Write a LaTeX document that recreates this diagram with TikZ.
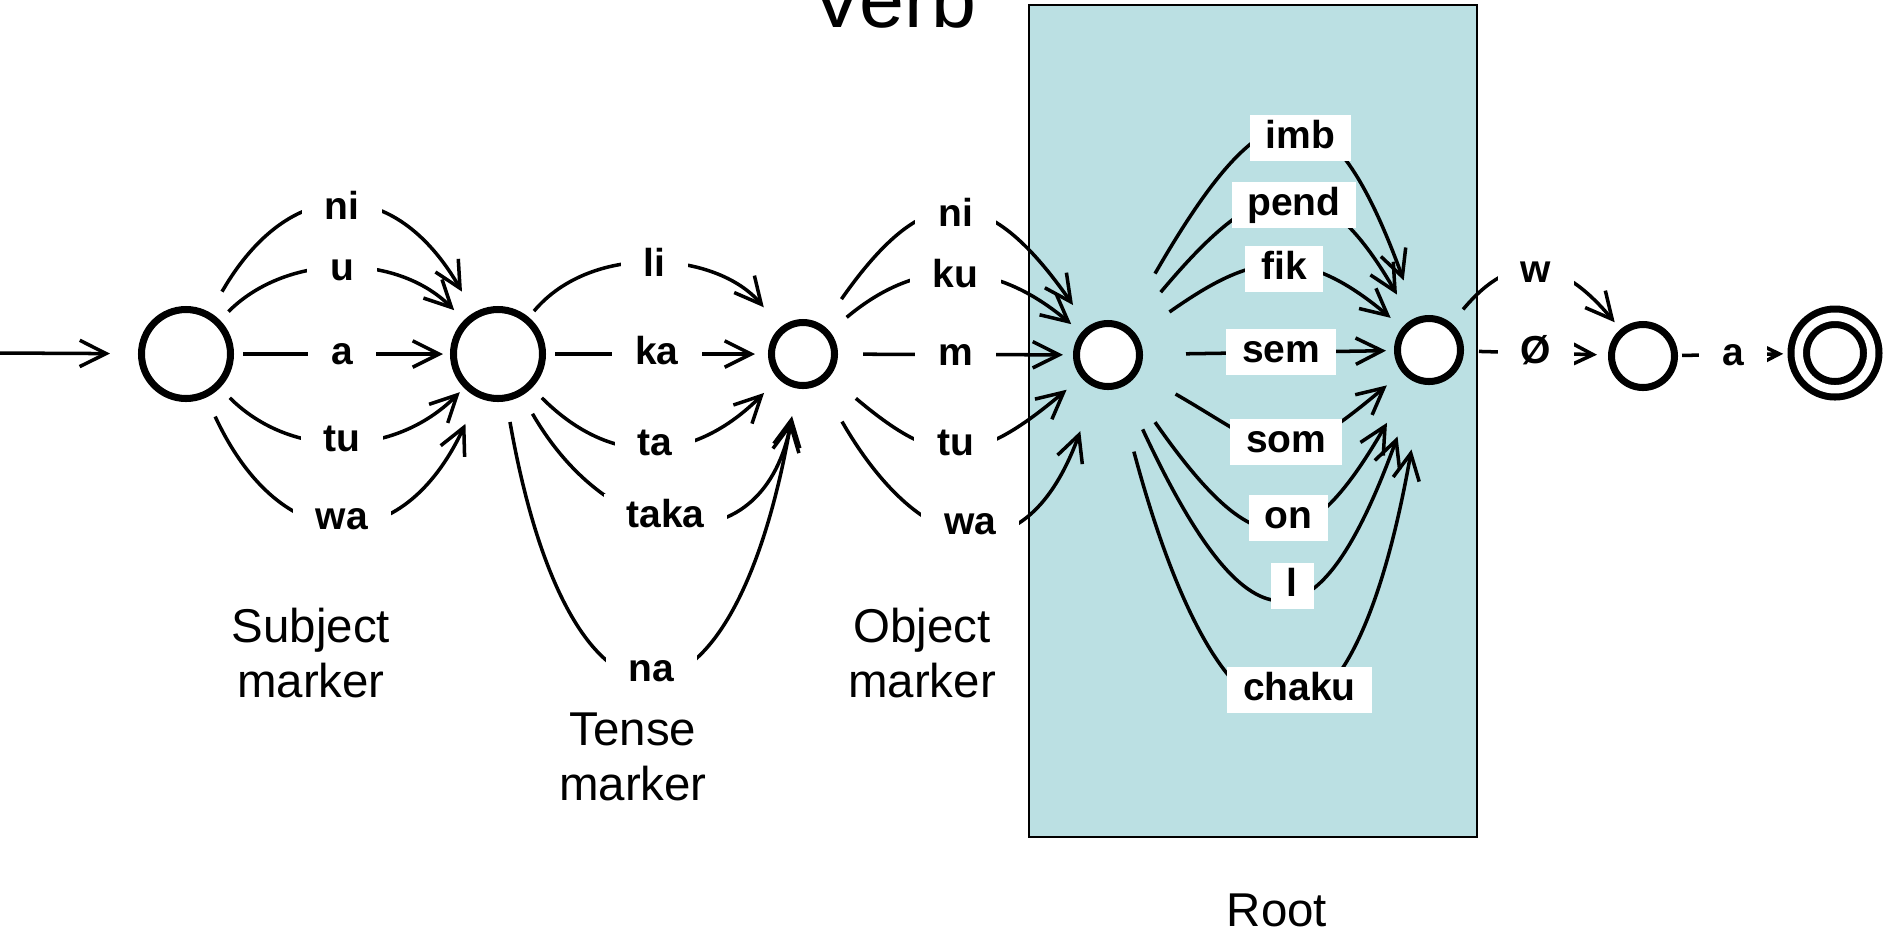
\documentclass[tikz,border=0pt]{standalone}
\usepackage{fontspec}
\setmainfont{Liberation Sans}
\usetikzlibrary{arrows.meta}
\definecolor{rootcyan}{RGB}{187,224,227}

\begin{document}
\begin{tikzpicture}[>={Straight Barb[length=7.5pt,width=7.5pt]},
  state/.style={draw,fill=white,circle,line width=2pt,minimum size=0.63cm,inner sep=0pt},
  bigstate/.style={state,minimum size=0.89cm},
  final/.style={state,double,double distance=2.4pt,minimum size=0.725cm,outer sep=3pt},
  edge/.style={->,line width=1pt},
  lbl/.style={fill=white,font=\fontsize{11.1}{13}\selectfont\bfseries,inner xsep=6.5pt,inner ysep=1.5pt,text height=8pt,text depth=2pt},
  rootlbl/.style={lbl,inner xsep=4.5pt,pos=0.55},
  caption/.style={font=\fontsize{13.5}{15.6}\selectfont,align=center}]
\useasboundingbox (0,0) rectangle (18.84,-9.37);

% root block
\draw[line width=0.7pt,fill=rootcyan] (10.29,-0.05) rectangle (14.77,-8.37);
\node[anchor=base west,font=\fontsize{23}{28}\selectfont] (verb) at (7.98,-0.27) {Verb};

% states
\node[bigstate] (q0) at (1.86,-3.54) {};
\node[bigstate] (q1) at (4.98,-3.54) {};
\node[state] (q2) at (8.03,-3.54) {};
\node[state] (q3) at (11.08,-3.55) {};
\node[state] (q4) at (14.29,-3.50) {};
\node[state] (q5) at (16.43,-3.56) {};
\node[final] (q6) at (18.35,-3.53) {};
\coordinate (entry) at (0,-3.53);
\draw[edge,shorten >=0.28cm] (entry) -- (q0);

% subject marker
\draw[edge,shorten <=.24cm,shorten >=.24cm] (q0) to[out=60,in=120,looseness=1.55] node[lbl] {ni} (q1);
\draw[edge,shorten <=.12cm,shorten >=.14cm] (q0) to[out=45,in=135,looseness=1.0] node[lbl] {u} (q1);
\draw[edge,shorten <=.09cm,shorten >=.07cm] (q0) -- node[lbl] {a} (q1);
\draw[edge,shorten <=.14cm,shorten >=.06cm] (q0) to[out=-45,in=-135,looseness=1.05] node[lbl] {tu} (q1);
\draw[edge,shorten <=.21cm,shorten >=.29cm] (q0) to[out=-65,in=-115,looseness=1.69] node[lbl] {wa} (q1);

% tense marker
\draw[edge,shorten <=.08cm,shorten >=.26cm] (q1) to[out=50,in=130,looseness=1.0] node[lbl] {li} (q2);
\draw[edge,shorten <=.09cm,shorten >=.13cm] (q1) -- node[lbl] {ka} (q2);
\draw[edge,shorten <=.14cm,shorten >=.20cm] (q1) to[out=-45,in=-135,looseness=1.21] node[lbl] {ta} (q2);
\draw[edge,shorten <=.21cm,shorten >=.28cm] (q1) to[out=-60,in=-100,looseness=1.69] node[lbl,pos=0.45] {taka} (q2);
\draw[edge,shorten <=.21cm,shorten >=.33cm] (q1) to[out=-80,in=-100,looseness=3.29] node[lbl] {na} (q2);

% object marker
\draw[edge,shorten <=.32cm,shorten >=.26cm] (q2) to[out=55,in=125,looseness=1.72] node[lbl] {ni} (q3);
\draw[edge,shorten <=.22cm,shorten >=.13cm] (q2) to[out=40,in=140,looseness=1.17] node[lbl] {ku} (q3);
\draw[edge,shorten <=.25cm,shorten >=.10cm] (q2) -- node[lbl] {m} (q3);
\draw[edge,shorten <=.34cm,shorten >=.19cm] (q2) to[out=-40,in=-140,looseness=1.43] node[lbl] {tu} (q3);
\draw[edge,shorten <=.43cm,shorten >=.46cm] (q2) to[out=-60,in=-110,looseness=1.89] node[lbl] {wa} (q3);

% roots
\draw[edge,shorten <=.59cm,shorten >=.39cm] (q3) to[out=60,in=110,looseness=2.37] node[rootlbl] {imb} (q4);
\draw[edge,shorten <=.47cm,shorten >=.29cm] (q3) to[out=50,in=120,looseness=1.76] node[rootlbl] {pend} (q4);
\draw[edge,shorten <=.40cm,shorten >=.15cm] (q3) to[out=35,in=140,looseness=1.31] node[rootlbl] {fik} (q4);
\draw[edge,shorten <=.43cm,shorten >=.08cm] (q3) -- node[rootlbl] {sem} (q4);
\draw[edge,shorten <=.43cm,shorten >=.20cm] (q3) to[out=-30,in=-140,looseness=1.57] node[rootlbl] {som} (q4);
\draw[edge,shorten <=.47cm,shorten >=.49cm] (q3) to[out=-55,in=-120,looseness=1.96] node[rootlbl] {on} (q4);
\draw[edge,shorten <=.47cm,shorten >=.57cm] (q3) to[out=-65,in=-110,looseness=2.55] node[rootlbl] {l} (q4);
\draw[edge,shorten <=.65cm,shorten >=.66cm] (q3) to[out=-75,in=-100,looseness=3.5] node[rootlbl] {chaku} (q4);

% ending
\draw[edge,shorten <=.18cm,shorten >=.09cm] (q4) to[out=50,in=130,looseness=1.44] node[lbl] {w} (q5);
\draw[edge,shorten <=.15cm,shorten >=.11cm] (q4) -- node[lbl] {Ø} (q5);
\draw[edge,shorten <=.04cm,shorten >=.05cm] (q5) -- node[lbl] {a} (q6);

\node[caption] (subj) at (3.11,-6.53) {Subject\\marker};
\node[caption] (tense) at (6.33,-7.57) {Tense\\marker};
\node[caption] (obj) at (9.22,-6.53) {Object\\marker};
\node[caption] (root) at (12.77,-9.10) {Root};
\end{tikzpicture}
\end{document}
